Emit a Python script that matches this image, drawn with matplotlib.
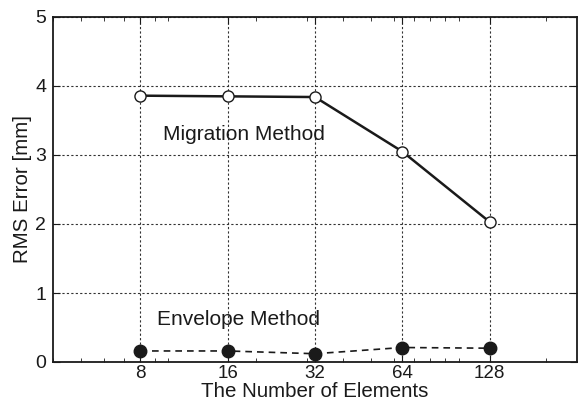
import matplotlib
matplotlib.use("Agg")
import matplotlib.pyplot as plt
from matplotlib.ticker import FixedLocator, NullFormatter, LogLocator

plt.rcParams['font.family'] = ['Liberation Sans', 'DejaVu Sans']

# data
elements = [8, 16, 32, 64, 128]
migration = [3.86, 3.85, 3.84, 3.05, 2.03]
envelope = [0.16, 0.16, 0.12, 0.21, 0.20]
tick_labels = ["8", "16", "32", "64", "128"]

fig = plt.figure(figsize=(5.8, 4.01), dpi=100)
ax = fig.add_axes([53 / 580, 1 - 362 / 401, 524 / 580, 345 / 401])

ink = "#1a1a1a"
ax.plot(elements, migration, "-o", color=ink, lw=1.8, ms=8,
        mfc="white", mec=ink, mew=1.0)
ax.plot(elements, envelope, "--o", color=ink, lw=1.2, ms=9,
        mfc=ink, mec=ink, dashes=(4, 3))

ax.set_xscale("log", base=2)
ax.set_xlim(4, 256)
ax.set_ylim(0, 5)
ax.xaxis.set_major_locator(FixedLocator(elements))
ax.set_xticklabels(tick_labels)
ax.xaxis.set_minor_locator(LogLocator(base=10, subs=range(1, 10)))
ax.xaxis.set_minor_formatter(NullFormatter())
ax.set_yticks([0, 1, 2, 3, 4, 5])

ax.grid(True, which="major", color="#333333", linestyle=(0, (2, 2)), lw=0.8)
ax.tick_params(which="both", direction="in", top=True, right=True,
               labelsize=13.5, colors=ink)
ax.tick_params(axis="x", pad=2)
ax.tick_params(axis="y", pad=5, labelsize=14)
ax.tick_params(which="major", length=5)
ax.tick_params(which="minor", length=3)
for s in ax.spines.values():
    s.set_linewidth(1.3)
    s.set_color(ink)

ax.text(9.58, 3.30, "Migration Method", fontsize=15, color=ink, va="center")
ax.text(9.13, 0.61, "Envelope Method", fontsize=15, color=ink, va="center")

ax.set_xlabel("The Number of Elements", fontsize=14.8, color=ink, labelpad=0)
ax.set_ylabel("RMS Error [mm]", fontsize=14.8, color=ink, labelpad=2)

fig.savefig("out.png", dpi=100)
